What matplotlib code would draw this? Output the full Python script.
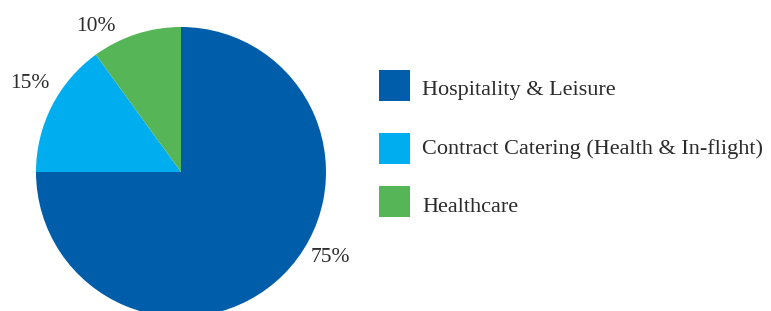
import matplotlib
matplotlib.use("Agg")
import matplotlib.pyplot as plt
from matplotlib.patches import Rectangle

categories = ["Hospitality & Leisure", "Contract Catering (Health & In-flight)", "Healthcare"]
values = [75, 15, 10]
colors = ["#005DA9", "#00ADEE", "#55B557"]
pct_labels = ["75%", "15%", "10%"]

W, H = 771, 311
fig = plt.figure(figsize=(W / 100, H / 100), dpi=100)
plt.rcParams['font.family'] = ['Liberation Serif', 'DejaVu Serif']

# pie axes: center (181,172) px from top-left, radius 145 px
cx, cy, r = 181, 172, 145
ax = fig.add_axes([(cx - r) / W, (H - cy - r) / H, 2 * r / W, 2 * r / H])
ax.pie(values, colors=colors, startangle=90, counterclock=False,
       wedgeprops=dict(linewidth=0), radius=1.0)
ax.set_xlim(-1, 1)
ax.set_ylim(-1, 1)
ax.set_aspect('auto')
ax.axis('off')

# percentage labels (center x, baseline y in px)
label_pos = {"75%": (330, 262), "15%": (30, 88), "10%": (96, 31)}
for lab in pct_labels:
    px, py = label_pos[lab]
    fig.text(px / W, 1 - py / H, lab, ha='center', va='baseline',
             fontsize=15.5, color='#2b2b2b')

# legend
box_x, box_w = 379, 31
box_tops = [70, 133, 186]
baselines = [95, 154, 212]
for cat, col, top, bl in zip(categories, colors, box_tops, baselines):
    fig.patches.append(Rectangle((box_x / W, 1 - (top + box_w) / H), box_w / W, box_w / H,
                                 transform=fig.transFigure, facecolor=col, edgecolor='none'))
    fig.text(422 / W, 1 - bl / H, cat, ha='left', va='baseline',
             fontsize=16, color='#2b2b2b')

fig.savefig("out.png", dpi=100)
